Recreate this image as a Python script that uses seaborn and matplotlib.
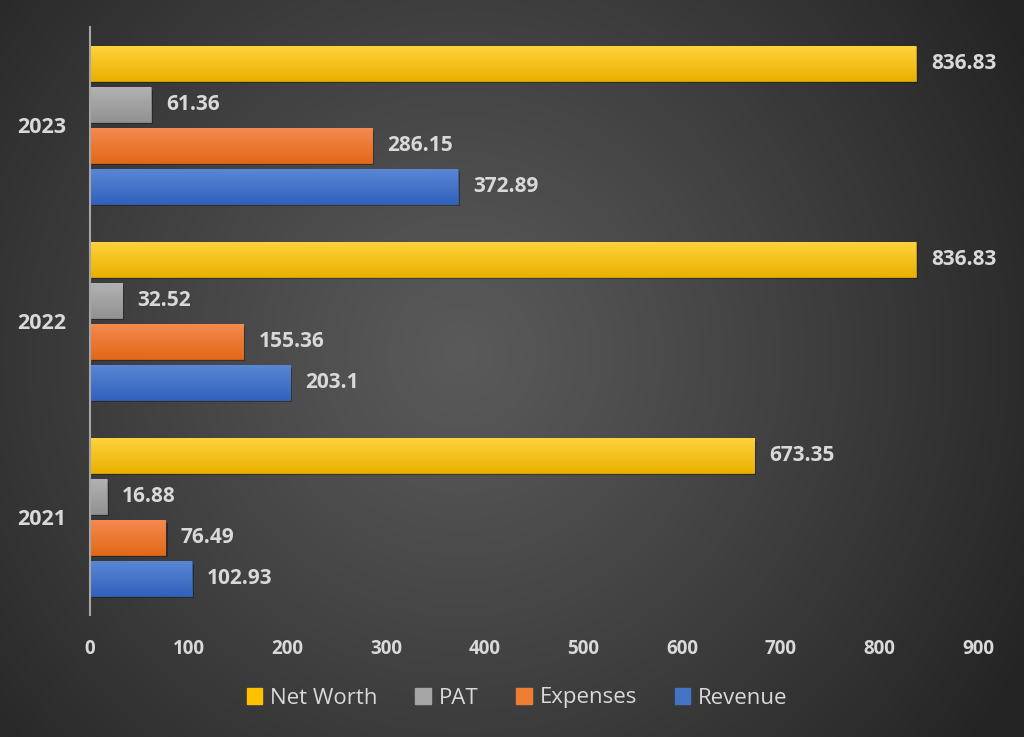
import numpy as np
import pandas as pd
import matplotlib
matplotlib.use("Agg")
import matplotlib.pyplot as plt
import matplotlib.patheffects as pe
from matplotlib.colors import to_rgba
import seaborn as sns

# ---- data ----
years = ["2023", "2022", "2021"]
series = ["Net Worth", "PAT", "Expenses", "Revenue"]
net_worth = [836.83, 836.83, 673.35]
pat = [61.36, 32.52, 16.88]
expenses = [286.15, 155.36, 76.49]
revenue = [372.89, 203.1, 102.93]
x_ticks = [0, 100, 200, 300, 400, 500, 600, 700, 800, 900]

colors = {"Net Worth": "#FFC000", "PAT": "#A5A5A5",
          "Expenses": "#ED7D31", "Revenue": "#4472C4"}
grad = {"Net Worth": ("#FFD23C", "#EAB000"),
        "PAT": ("#B2B2B2", "#929292"),
        "Expenses": ("#F38A50", "#E36818"),
        "Revenue": ("#5A86D5", "#3162BC")}

values = {"Net Worth": net_worth, "PAT": pat, "Expenses": expenses, "Revenue": revenue}
rows = []
for s in series:
    for y, v in zip(years, values[s]):
        rows.append({"Year": y, "Series": s, "Value": v})
df = pd.DataFrame(rows)

sns.set_theme(style="white")
plt.rcParams["font.family"] = ["Open Sans", "DejaVu Sans"]
txt = "#D9D9D9"

W, H = 1024, 737
fig = plt.figure(figsize=(W / 100, H / 100), dpi=100, facecolor="#2a2a2a")

# radial background
bg = fig.add_axes([0, 0, 1, 1], zorder=-10)
yy, xx = np.mgrid[0:H, 0:W]
cx, cy = 0.45 * W, 0.48 * H
r = np.sqrt(((xx - cx) / (0.62 * W)) ** 2 + ((yy - cy) / (0.62 * W)) ** 2)
r = np.clip(r, 0, 1)
c_in, c_out = 0x5A / 255, 0x25 / 255
val = c_in + (c_out - c_in) * r ** 1.1
img = np.dstack([val, val, val])
bg.imshow(img, aspect="auto", extent=(0, 1, 0, 1))
bg.axis("off")

ax = fig.add_axes([90 / W, 1 - 615 / H, (978 - 90) / W, (615 - 27) / H])
ax.set_facecolor("none")

sns.barplot(data=df, y="Year", x="Value", hue="Series", order=years,
            hue_order=series, palette=colors, orient="h", width=0.837,
            gap=0.17, ax=ax, legend=True, saturation=1)

ax.set_xlim(0, 900)
ylim = ax.get_ylim()
xlim = ax.get_xlim()

for cont, s in zip(ax.containers, series):
    top, bot = to_rgba(grad[s][0]), to_rgba(grad[s][1])
    g = np.linspace(0, 1, 64)[:, None, None]
    gimg = np.array(top)[None, None, :] * (1 - g) + np.array(bot)[None, None, :] * g
    for p in cont:
        p.set_edgecolor(grad[s][1])
        p.set_linewidth(0.5)
        p.set_path_effects([pe.SimplePatchShadow(offset=(1.5, -2), shadow_rgbFace="black", alpha=0.3),
                            pe.Normal()])
        x0, y0 = p.get_x(), p.get_y()
        w, h = p.get_width(), p.get_height()
        im = ax.imshow(gimg, extent=(x0, x0 + w, y0 + h, y0), aspect="auto",
                       origin="upper", zorder=p.get_zorder() + 0.1, interpolation="bilinear")
        im.set_clip_path(p)
    ax.bar_label(cont, labels=[f"{v:g}" for v in cont.datavalues], padding=11,
                 fontsize=15, fontweight="bold", color=txt)

ax.set_xlim(xlim)
ax.set_ylim(ylim)
ax.set_xticks(x_ticks)
ax.set_xticklabels([str(t) for t in x_ticks])
ax.set_xlabel("")
ax.set_ylabel("")
for sp in ["top", "right", "bottom"]:
    ax.spines[sp].set_visible(False)
ax.spines["left"].set_color("#A6A6A6")
ax.spines["left"].set_linewidth(1.5)
ax.tick_params(axis="x", length=0, pad=17, labelsize=13.5, labelcolor=txt)
ax.tick_params(axis="y", length=0, pad=17, labelsize=15.5, labelcolor=txt)
for lab in ax.get_xticklabels() + ax.get_yticklabels():
    lab.set_fontweight("bold")
ax.grid(False)

handles, labels = ax.get_legend_handles_labels()
ax.get_legend().remove()
leg = fig.legend(handles, labels, loc="center", bbox_to_anchor=(0.505, 1 - 698 / H),
                 ncol=4, frameon=False, handlelength=0.7, handleheight=0.7,
                 handletextpad=0.35, columnspacing=1.7, fontsize=16)
for t in leg.get_texts():
    t.set_color(txt)
for h, s in zip(leg.legend_handles, series):
    h.set_edgecolor(colors[s])
    h.set_path_effects([])

fig.savefig("out.png", dpi=100, facecolor=fig.get_facecolor())
